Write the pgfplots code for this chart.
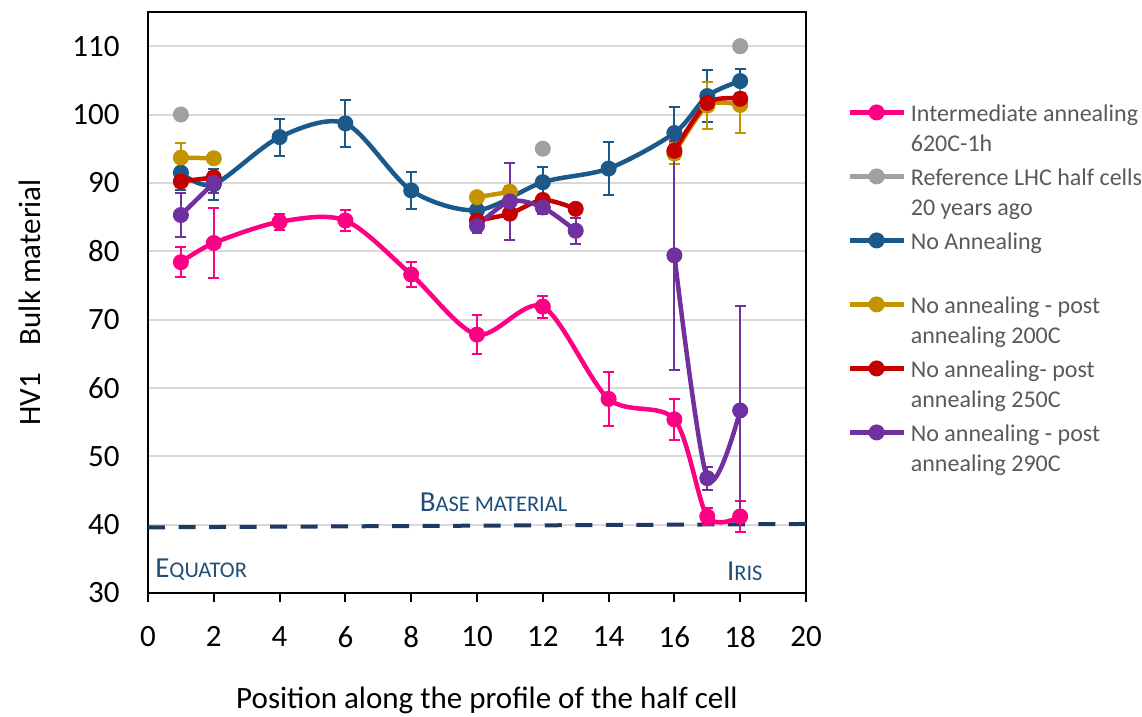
\documentclass[border=0pt]{standalone}
\usepackage{fontspec}
\setmainfont{Carlito}
\usepackage{pgfplots}
\pgfplotsset{compat=1.18}

\definecolor{cPink}{RGB}{255,0,132}
\definecolor{cGray}{RGB}{160,160,160}
\definecolor{cBlue}{RGB}{27,89,138}
\definecolor{cGold}{RGB}{196,148,0}
\definecolor{cRed}{RGB}{196,0,0}
\definecolor{cPurple}{RGB}{112,48,160}
\definecolor{cDash}{RGB}{31,56,100}
\definecolor{cNote}{RGB}{31,78,121}
\definecolor{cGrid}{RGB}{217,217,217}
\definecolor{cLegend}{RGB}{89,89,89}

% fake small capitals: large initial, smaller upper-case rest
\newcommand\scap[2]{{\fontsize{14.5}{16}\selectfont #1}{\fontsize{11.2}{13}\selectfont #2}}
% two-line legend entry, baseline on the first line
\newcommand\two[2]{\vtop{\hbox{\strut #1}\hbox{\strut #2}}}

\pgfplotsset{
  series/.style={color=#1, line width=2.25pt, smooth, mark=*, mark size=3.75pt,
    mark options={solid, line width=0.5pt, fill=#1, draw=#1},
    error bars/y dir=both, error bars/y explicit,
    error bars/error bar style={line width=1pt, #1},
    error bars/error mark options={rotate=90, line width=1pt, mark size=2.7pt, #1}},
}

% Intermediate annealing 620C-1h
\pgfplotstableread{
x y e
1 78.4 2.2
2 81.2 5.1
4 84.3 1.2
6 84.5 1.5
8 76.6 1.8
10 67.8 2.8
12 71.9 1.6
14 58.4 3.9
16 55.4 3.0
17 41.2 1.2
18 41.2 2.3
}\inter
% No annealing
\pgfplotstableread{
x y e
1 91.5 2.5
2 89.8 2.3
4 96.7 2.7
6 98.7 3.4
8 88.9 2.7
10 86.0 1.0
12 90.1 2.2
14 92.1 3.9
16 97.3 3.8
17 102.7 3.8
18 104.9 1.8
}\noann

\begin{document}
\begin{tikzpicture}
\useasboundingbox (-74pt,-62pt) rectangle (497pt,296.5pt);
\begin{axis}[
  at={(0,0)}, anchor=south west,
  scale only axis, width=329pt, height=290.5pt,
  xmin=0, xmax=20, ymin=30, ymax=115,
  xtick={0,2,...,20}, ytick={30,40,...,110},
  ymajorgrids, grid style={color=cGrid, line width=1pt},
  axis line style={line width=1.2pt, black},
  tick align=outside, tick pos=left,
  major tick length=4.5pt,
  xtick style={black, line width=1pt},
  ytick style={draw=none},
  /pgf/number format/assume math mode=true,
  ticklabel style={font=\fontsize{15.5}{18}\selectfont},
  xticklabel style={anchor=north, inner sep=0pt, yshift=-12pt},
  yticklabel style={anchor=east, inner sep=0pt, xshift=-9.5pt},
  xlabel={Position along the profile of the half cell},
  xlabel style={at={(axis description cs:0.5152,-0.1842)}, anchor=center,
    font=\fontsize{15.5}{18}\selectfont},
  ylabel={HV1\hspace{0.68em} Bulk material},
  ylabel style={at={(axis description cs:-0.1793,0.5)}, anchor=center,
    font=\fontsize{15.5}{18}\selectfont},
  legend style={at={(axis description cs:1.0623,0.8485)}, anchor=north west,
    draw=none, fill=none, inner sep=0pt, row sep=20pt, column sep=2.5pt,
    font=\fontsize{12}{15}\selectfont, text=cLegend,
    nodes={inner sep=0pt}},
  legend cell align=left,
  legend image code/.code={\draw[#1, mark repeat=2, mark phase=2]
    plot coordinates {(0pt,0pt) (13.5pt,0pt) (27pt,0pt)};},
]
% base material level
\addplot[cDash, line width=2pt, dash pattern=on 8.5pt off 6.76pt, forget plot]
  coordinates {(0,39.6) (20,40.1)};

\addplot[series=cPink] table[x=x, y=y, y error=e] {\inter};
\addlegendentry{\two{Intermediate annealing}{620C-1h}}

\addplot[series=cGray, sharp plot] coordinates {(1,100)};
\addlegendentry{\two{Reference LHC half cells}{20 years ago}}
\addplot[series=cGray, sharp plot, forget plot] coordinates {(12,95)};
\addplot[series=cGray, sharp plot, forget plot] coordinates {(18,110)};

\addplot[series=cBlue] table[x=x, y=y, y error=e] {\noann};
\addlegendentry{\two{No Annealing}{}}

% post annealing 200C
\addplot[series=cGold] table[x=x, y=y, y error=e] {
x y e
1 93.7 2.1
2 93.6 0.5
};
\addlegendentry{\two{No annealing - post}{annealing 200C}}
\addplot[series=cGold, forget plot] table[x=x, y=y, y error=e] {
x y e
10 87.9 0.5
11 88.7 0.9
};
\addplot[series=cGold, forget plot] table[x=x, y=y, y error=e] {
x y e
16 94.3 1.5
17 101.3 3.4
18 101.4 4.1
};

% post annealing 250C
\addplot[series=cRed] table[x=x, y=y, y error=e] {
x y e
1 90.2 0.8
2 90.8 0.8
};
\addlegendentry{\two{No annealing- post}{annealing 250C}}
\addplot[series=cRed, forget plot] table[x=x, y=y, y error=e] {
x y e
10 84.5 0.8
11 85.5 0.8
12 87.5 0.8
13 86.2 0.5
};
\addplot[series=cRed, forget plot] table[x=x, y=y, y error=e] {
x y e
16 94.7 0.8
17 101.7 0.8
18 102.3 0.8
};

% post annealing 290C
\addplot[series=cPurple] table[x=x, y=y, y error=e] {
x y e
1 85.3 3.2
2 90.0 1.5
};
\addlegendentry{\two{No annealing - post}{annealing 290C}}
\addplot[series=cPurple, forget plot] table[x=x, y=y, y error=e] {
x y e
10 83.7 1.0
11 87.3 5.6
12 86.4 1.0
13 83.0 1.9
};
\addplot[series=cPurple, forget plot] table[x=x, y=y, y error=e] {
x y e
16 79.4 16.8
17 46.8 1.7
18 56.7 15.3
};

\node[anchor=base west, inner sep=0pt, text=cNote] at (axis cs:0.21,32.34) {\scap{E}{QUATOR}};
\node[anchor=base west, inner sep=0pt, text=cNote] at (axis cs:8.25,41.87) {\scap{B}{ASE MATERIAL}};
\node[anchor=base west, inner sep=0pt, text=cNote] at (axis cs:17.59,31.8) {\scap{I}{RIS}};
\end{axis}
\end{tikzpicture}
\end{document}
